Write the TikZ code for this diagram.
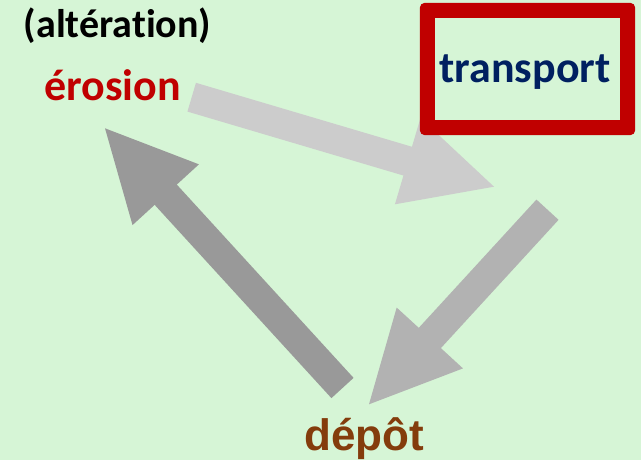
\documentclass[tikz,border=0pt]{standalone}
\usepackage{fontspec}
\usetikzlibrary{calc}
\newfontfamily\carlito{Carlito}[Ligatures={NoCommon,NoContextual}]
\newfontfamily\liberation{Liberation Sans}

\definecolor{bggreen}{RGB}{214,245,214}
\definecolor{arrowlight}{RGB}{204,204,204}
\definecolor{arrowmid}{RGB}{178,178,178}
\definecolor{arrowdark}{RGB}{153,153,153}
\definecolor{framered}{RGB}{192,0,0}
\definecolor{navytext}{RGB}{0,32,96}
\definecolor{browntext}{RGB}{132,60,12}

% block arrow: shaft 30pt wide, head 90pt wide and 90pt long
\newcommand\cyclearrow[3]{%
  \fill[#1]
    ($(#2)!15pt!90:(#3)$) --
    ($(#3)!90pt!(#2)!15pt!90:(#3)$) --
    ($(#3)!90pt!(#2)!45pt!90:(#3)$) --
    (#3) --
    ($(#3)!90pt!(#2)!45pt!-90:(#3)$) --
    ($(#3)!90pt!(#2)!15pt!-90:(#3)$) --
    ($(#2)!15pt!-90:(#3)$) -- cycle;}

\tikzset{
  label text/.style={anchor=base, inner sep=0pt, font=\carlito\bfseries\fontsize{44}{48}\selectfont},
  frame box/.style={minimum width=185pt, minimum height=102pt, inner sep=0pt},
}

\begin{document}
\begin{tikzpicture}[x=1pt, y=-1pt]
  \useasboundingbox (0,0) rectangle (641,460);
  \fill[bggreen] (0,0) rectangle (641,460);

  % arrow end points
  \coordinate (erosionout) at (191.7,97.2);
  \coordinate (transportin) at (494,186.7);
  \coordinate (transportout) at (547.5,209.7);
  \coordinate (depotin) at (369,404.3);
  \coordinate (depotout) at (342.5,388);
  \coordinate (erosionin) at (105,128.3);

  % the cycle
  \cyclearrow{arrowlight}{erosionout}{transportin}
  \cyclearrow{arrowmid}{transportout}{depotin}
  \cyclearrow{arrowdark}{depotout}{erosionin}

  % red frame round the transport label
  \node[frame box] (box) at (527.5,69) {};
  \fill[framered, even odd rule]
    [rounded corners=5pt] ($(box.north west)+(-15,-15)$) rectangle ($(box.south east)+(15,15)$)
    [sharp corners] (box.north west) rectangle (box.south east);

  % labels
  \node[label text, font=\carlito\bfseries\fontsize{40}{44}\selectfont] (alteration) at (117.5,38) {(altération)};
  \node[label text, text=framered] (erosion) at (112.5,101) {érosion};
  \node[label text, text=navytext] (transport) at (525,83) {transport};
  \node[label text, text=browntext, font=\liberation\bfseries\fontsize{44}{48}\selectfont] (depot) at (364.5,450) {dépôt};
\end{tikzpicture}
\end{document}
